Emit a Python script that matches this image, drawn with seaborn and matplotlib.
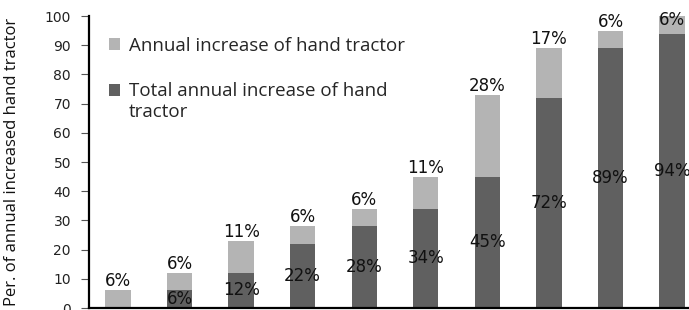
import matplotlib
matplotlib.use("Agg")
import matplotlib.pyplot as plt
import seaborn as sns
import pandas as pd
from matplotlib.patches import Patch, Rectangle
from matplotlib.legend_handler import HandlerPatch

# Data
categories = ["1", "2", "3", "4", "5", "6", "7", "8", "9", "10"]
total_increase = [0, 6, 12, 22, 28, 34, 45, 72, 89, 94]
annual_increase = [6, 6, 11, 6, 6, 11, 28, 17, 6, 6]
y_ticks = [0, 10, 20, 30, 40, 50, 60, 70, 80, 90, 100]

sns.set_theme(style="white")
plt.rcParams["font.family"] = ["DejaVu Sans"]

dark = "#606060"
light = "#b4b4b4"

df = pd.DataFrame({"cat": categories, "total": total_increase, "annual": annual_increase})

fig = plt.figure(figsize=(6.89, 3.10), dpi=100)
ax = fig.add_axes([89 / 689, 2 / 310, 600 / 689, 292 / 310])

sns.barplot(data=df, x="cat", y="total", color=dark, width=0.41, ax=ax,
            saturation=1, linewidth=0)
sns.barplot(data=df, x="cat", y="annual", color=light, width=0.41, ax=ax,
            saturation=1, linewidth=0, bottom=df["total"])

dark_bars = ax.containers[0]
light_bars = ax.containers[1]

dark_labels = [f"{v}%" if v > 0 else "" for v in total_increase]
ax.bar_label(dark_bars, labels=dark_labels, label_type="center",
             fontsize=12, color="#111111", family="DejaVu Sans")
light_labels = [f"{v}%" for v in annual_increase]
texts = ax.bar_label(light_bars, labels=light_labels, padding=0,
                     fontsize=12, color="#111111", family="DejaVu Sans")
texts[-1].set_verticalalignment("center")
texts[-1].xyann = (0, -3)

ax.set_xlim(-0.471, 9.276)
ax.set_ylim(0, 100)
ax.set_yticks(y_ticks)
ax.set_xticks([])
ax.set_xlabel("")
ax.tick_params(axis="y", which="both", left=True, length=6, width=0.8,
               color="#555555", labelsize=10, labelcolor="#222222", pad=7)
for lab in ax.get_yticklabels():
    lab.set_family("DejaVu Sans")

for s in ["top", "right"]:
    ax.spines[s].set_visible(False)
for s in ["left", "bottom"]:
    ax.spines[s].set_color("black")
    ax.spines[s].set_linewidth(1.6)

ax.set_ylabel("Per. of annual increased hand tractor", fontsize=12,
              family=["Open Sans", "DejaVu Sans"], color="#111111")
ax.yaxis.set_label_coords(-(89 - 20) / 600, 0.5)


class TopHandler(HandlerPatch):
    def __init__(self, shift=0.0, **kw):
        super().__init__(**kw)
        self.shift = shift

    def create_artists(self, legend, orig_handle, xdescent, ydescent,
                       width, height, fontsize, trans):
        p = Rectangle((-xdescent, -ydescent + self.shift * fontsize), width, height,
                      facecolor=orig_handle.get_facecolor(), edgecolor="none",
                      transform=trans)
        return [p]


h_light = Patch(facecolor=light, edgecolor="none")
h_dark = Patch(facecolor=dark, edgecolor="none")
labels = ["Annual increase of hand tractor",
          "Total annual increase of hand\ntractor"]
leg = ax.legend([h_light, h_dark], labels, loc="upper left",
                bbox_to_anchor=(0.02, 0.955), frameon=False,
                prop={"family": ["Open Sans", "DejaVu Sans"], "size": 13.5},
                handlelength=0.6, handleheight=0.6, handletextpad=0.5,
                labelspacing=1.45, borderaxespad=0,
                handler_map={h_light: TopHandler(0.0), h_dark: TopHandler(0.6)})

fig.savefig("out.png", dpi=100)
